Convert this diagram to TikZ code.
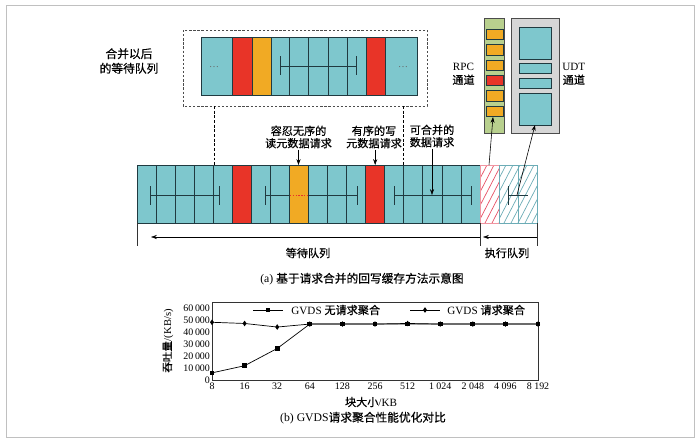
\documentclass[tikz,border=0pt]{standalone}
\usepackage{fontspec}
\setmainfont{Liberation Serif}
\newfontfamily\cjk[FakeBold=0.5]{Noto Sans CJK SC}
\usetikzlibrary{arrows.meta,positioning,shapes.geometric}

\definecolor{cellteal}{RGB}{126,199,205}
\definecolor{cellred}{RGB}{232,52,40}
\definecolor{cellorange}{RGB}{241,170,36}
\definecolor{rpcgreen}{RGB}{184,208,142}
\definecolor{udtgray}{RGB}{214,214,214}
\definecolor{edge}{RGB}{32,58,64}
\definecolor{hatchred}{RGB}{230,80,100}
\definecolor{hatchblue}{RGB}{108,172,182}
\definecolor{framegray}{RGB}{192,192,192}

\tikzset{cell/.style={draw=edge,line width=0.5pt},
	span/.style={draw=edge,line width=0.6pt},
	lbl/.style={font=\fontsize{9.5}{10.5}\selectfont\cjk,align=center,inner sep=1pt},
	num/.style={font=\fontsize{8.5}{10}\selectfont,inner sep=1pt},
	pt/.style={-{Stealth[length=5pt,width=3.5pt]},line width=0.5pt},
	boxdash/.style={draw=black!70,dash pattern=on 2pt off 1.5pt,line width=0.6pt},
	vdash/.style={draw=black,dash pattern=on 2.5pt off 1.5pt,line width=0.5pt},
	series/.style={draw=black,line width=0.6pt},
	sqdot/.style={fill=black,inner sep=0pt,minimum size=4pt},
	dmdot/.style={diamond,fill=black,inner sep=0pt,minimum width=3.6pt,minimum height=5pt}}

\begin{document}
\begin{tikzpicture}[x=0.03cm,y=-0.03cm]
	\useasboundingbox (0,0) rectangle (700,442);
	\draw[framegray,line width=0.6pt] (6,5) rectangle (694,437);
	
	% merged queue
	\draw[boxdash] (183,30) rectangle (427,106);
	\foreach \a/\b/\c in {201/232/cellteal,232/252/cellred,252/271/cellorange,271/289/cellteal,289/308/cellteal,308/328/cellteal,328/347/cellteal,347/366/cellteal,366/385/cellred,385/417/cellteal}
		\draw[cell,fill=\c] (\a,37) rectangle (\b,95);
	\draw[span] (280,66)--(356,66) (280,56)--(280,75) (356,56)--(356,75);
	\node[num,text=black!60] (dotsL) at (214,67) {…};
	\node[num,text=black!60] (dotsR) at (403,67) {…};
	\node[lbl,font=\fontsize{10}{12.5}\selectfont\cjk] (mergedq) at (129,61) {合并以后\\的等待队列};
	\coordinate (mqS) at (0,106);
	
	% channels
	\draw[draw=black!70,fill=rpcgreen,line width=0.6pt] (484,18) rectangle (504,133);
	\foreach \k/\c in {0/cellorange,1/cellorange,2/cellorange,3/cellred,4/cellorange,5/cellorange}
		\draw[cell,fill=\c] (486,{29+15.4*\k}) rectangle +(17,10.5);
	\draw[draw=black!70,fill=udtgray,line width=0.7pt] (511,18) rectangle (559,133);
	\foreach \a/\b in {27/59,63/73,78/88,93/125}
		\draw[cell,fill=cellteal] (519,\a) rectangle (551,\b);
	\node[lbl,anchor=east,font=\fontsize{9.5}{11.5}\selectfont] (rpc) at (476,74) {RPC\\{\cjk 通道}};
	\node[lbl,anchor=west,font=\fontsize{9.5}{11.5}\selectfont] (udt) at (561,74) {UDT\\{\cjk 通道}};
	\coordinate (rpcin) at (493,117);
	\coordinate (udtin) at (535,125);
	
	% queue
	\foreach \i in {0,...,17}
		\draw[cell,fill=cellteal] ({137+19.05*\i},165) rectangle +(19.05,58);
	\foreach \i/\c in {5/cellred,8/cellorange,12/cellred}
		\draw[cell,fill=\c] ({137+19.05*\i},165) rectangle +(19.05,58);
	\begin{scope}
		\clip (480,165) rectangle (499,223);
		\foreach \k in {0,...,8} \draw[hatchred,line width=0.6pt] ({450+7*\k},223) -- +(30,-58);
	\end{scope}
	\begin{scope}
		\clip (499,165) rectangle (537,223);
		\foreach \k in {0,...,12} \draw[hatchblue,line width=0.6pt] ({469+7*\k},223) -- +(30,-58);
	\end{scope}
	\draw[hatchred!60,line width=0.5pt] (480,165) rectangle (499,223);
	\draw[hatchblue,line width=0.5pt] (499,165) rectangle (537,223) (518,165)--(518,223);
	\coordinate (barN) at (0,165);
	
	\draw[span] (150,195)--(219,195) (150,186)--(150,205) (219,186)--(219,205);
	\draw[span] (265,195)--(289.6,195) (308.6,195)--(357,195) (265,186)--(265,205) (357,186)--(357,205);
	\draw[cellred,dash pattern=on 1.2pt off 1.2pt,line width=0.6pt] (290,195)--(308,195);
	\draw[span] (394,195)--(471,195) (394,186)--(394,205) (471,186)--(471,205);
	\draw[span] (508,195)--(528,195) (508,186)--(508,205);
	
	\draw[vdash] (dotsL |- mqS) -- (dotsL |- barN);
	\draw[vdash] (dotsR |- mqS) -- (dotsR |- barN);
	
	\node[lbl] (rdreq) at (298.5,137) {容忍无序的\\读元数据请求};
	\node[lbl] (wrreq) at (374,137) {有序的写\\元数据请求};
	\node[lbl] (mgreq) at (432,136) {可合并的\\数据请求};
	\coordinate (spanmid) at (432,195);
	\draw[pt] (rdreq.south) -- (rdreq.south |- barN);
	\draw[pt] ([xshift=1pt]wrreq.south) -- ([xshift=1pt]wrreq.south |- barN);
	\draw[pt] (mgreq.south) -- (spanmid);
	
	\coordinate (rpcout) at (489,165);
	\coordinate (udtout) at (517,195);
	\draw[pt] (rpcout) -- (rpcin);
	\draw[pt] (udtout) -- (udtin);
	
	% waiting and running
	\draw[span,draw=black!80] (137,223)--(137,246) (480,223)--(480,246) (537,223)--(537,246);
	\coordinate (waitR) at (480,237);
	\coordinate (waitL) at (151,237);
	\coordinate (execR) at (537,237);
	\coordinate (execL) at (483,237);
	\draw[pt] (waitR) -- (waitL);
	\draw[pt] (execR) -- (execL);
	\node[lbl] (waitq) at (308,253) {等待队列};
	\node[lbl] (execq) at (507,253) {执行队列};
	\node[lbl,font=\fontsize{10}{11}\selectfont] (capa) at (362,279) {(a)\ {\cjk 基于请求合并的回写缓存方法示意图}};
	
	% chart
	\begin{scope}[shift={(212,380)},x=0.978cm,y=0.0357cm]
		\draw[line width=0.6pt,draw=black!80] (0,0) rectangle (10,65.5);
		\draw[series] plot coordinates {(0,6) (1,12) (2,26.5) (3,47) (4,47) (5,47) (6,47) (7,47) (8,47) (9,47) (10,47)};
		\draw[series] plot coordinates {(0,48.5) (1,47.5) (2,44.5) (3,47) (4,47) (5,47) (6,47.5) (7,47) (8,47) (9,47) (10,47)};
		\foreach \v [count=\i from 0] in {6,12,26.5,47,47,47,47,47,47,47,47}
			\node[sqdot] (nq\i) at (\i,\v) {};
		\foreach \v [count=\i from 0] in {48.5,47.5,44.5,47,47,47,47.5,47,47,47,47}
			\node[dmdot] (ag\i) at (\i,\v) {};
		\foreach \v in {0,10,...,60}
			\node[num,anchor=east] (yl\v) at (-0.02,\v) {\ifnum\v=0 0\else\v\,000\fi};
		\foreach \t [count=\i from 0] in {8,16,32,64,128,256,512,{1 024},{2 048},{4 096},{8 192}}
			\node[num,anchor=north] (xl\i) at (\i,-1.5) {\t};
	\end{scope}
	\draw[series] (253,310) -- (283,310);
	\node[sqdot] (lg1) at (268,310) {};
	\node[num,anchor=west,font=\fontsize{9.5}{10}\selectfont] (lgt1) at (290,310) {GVDS {\cjk 无请求聚合}};
	\draw[series] (410,310) -- (440,310);
	\node[dmdot] (lg2) at (425,310) {};
	\node[num,anchor=west,font=\fontsize{9.5}{10}\selectfont] (lgt2) at (446,310) {GVDS {\cjk 请求聚合}};
	\node[num,rotate=90,font=\fontsize{9}{10}\selectfont] (ytitle) at (168,341) {{\cjk 吞吐量}/(KB/s)};
	\node[num,font=\fontsize{9.5}{10}\selectfont] (xtitle) at (371,402) {{\cjk 块大小}/KB};
	\node[num,font=\fontsize{10}{11}\selectfont] (capb) at (363,418) {(b)\ GVDS{\cjk 请求聚合性能优化对比}};
\end{tikzpicture}
\end{document}
